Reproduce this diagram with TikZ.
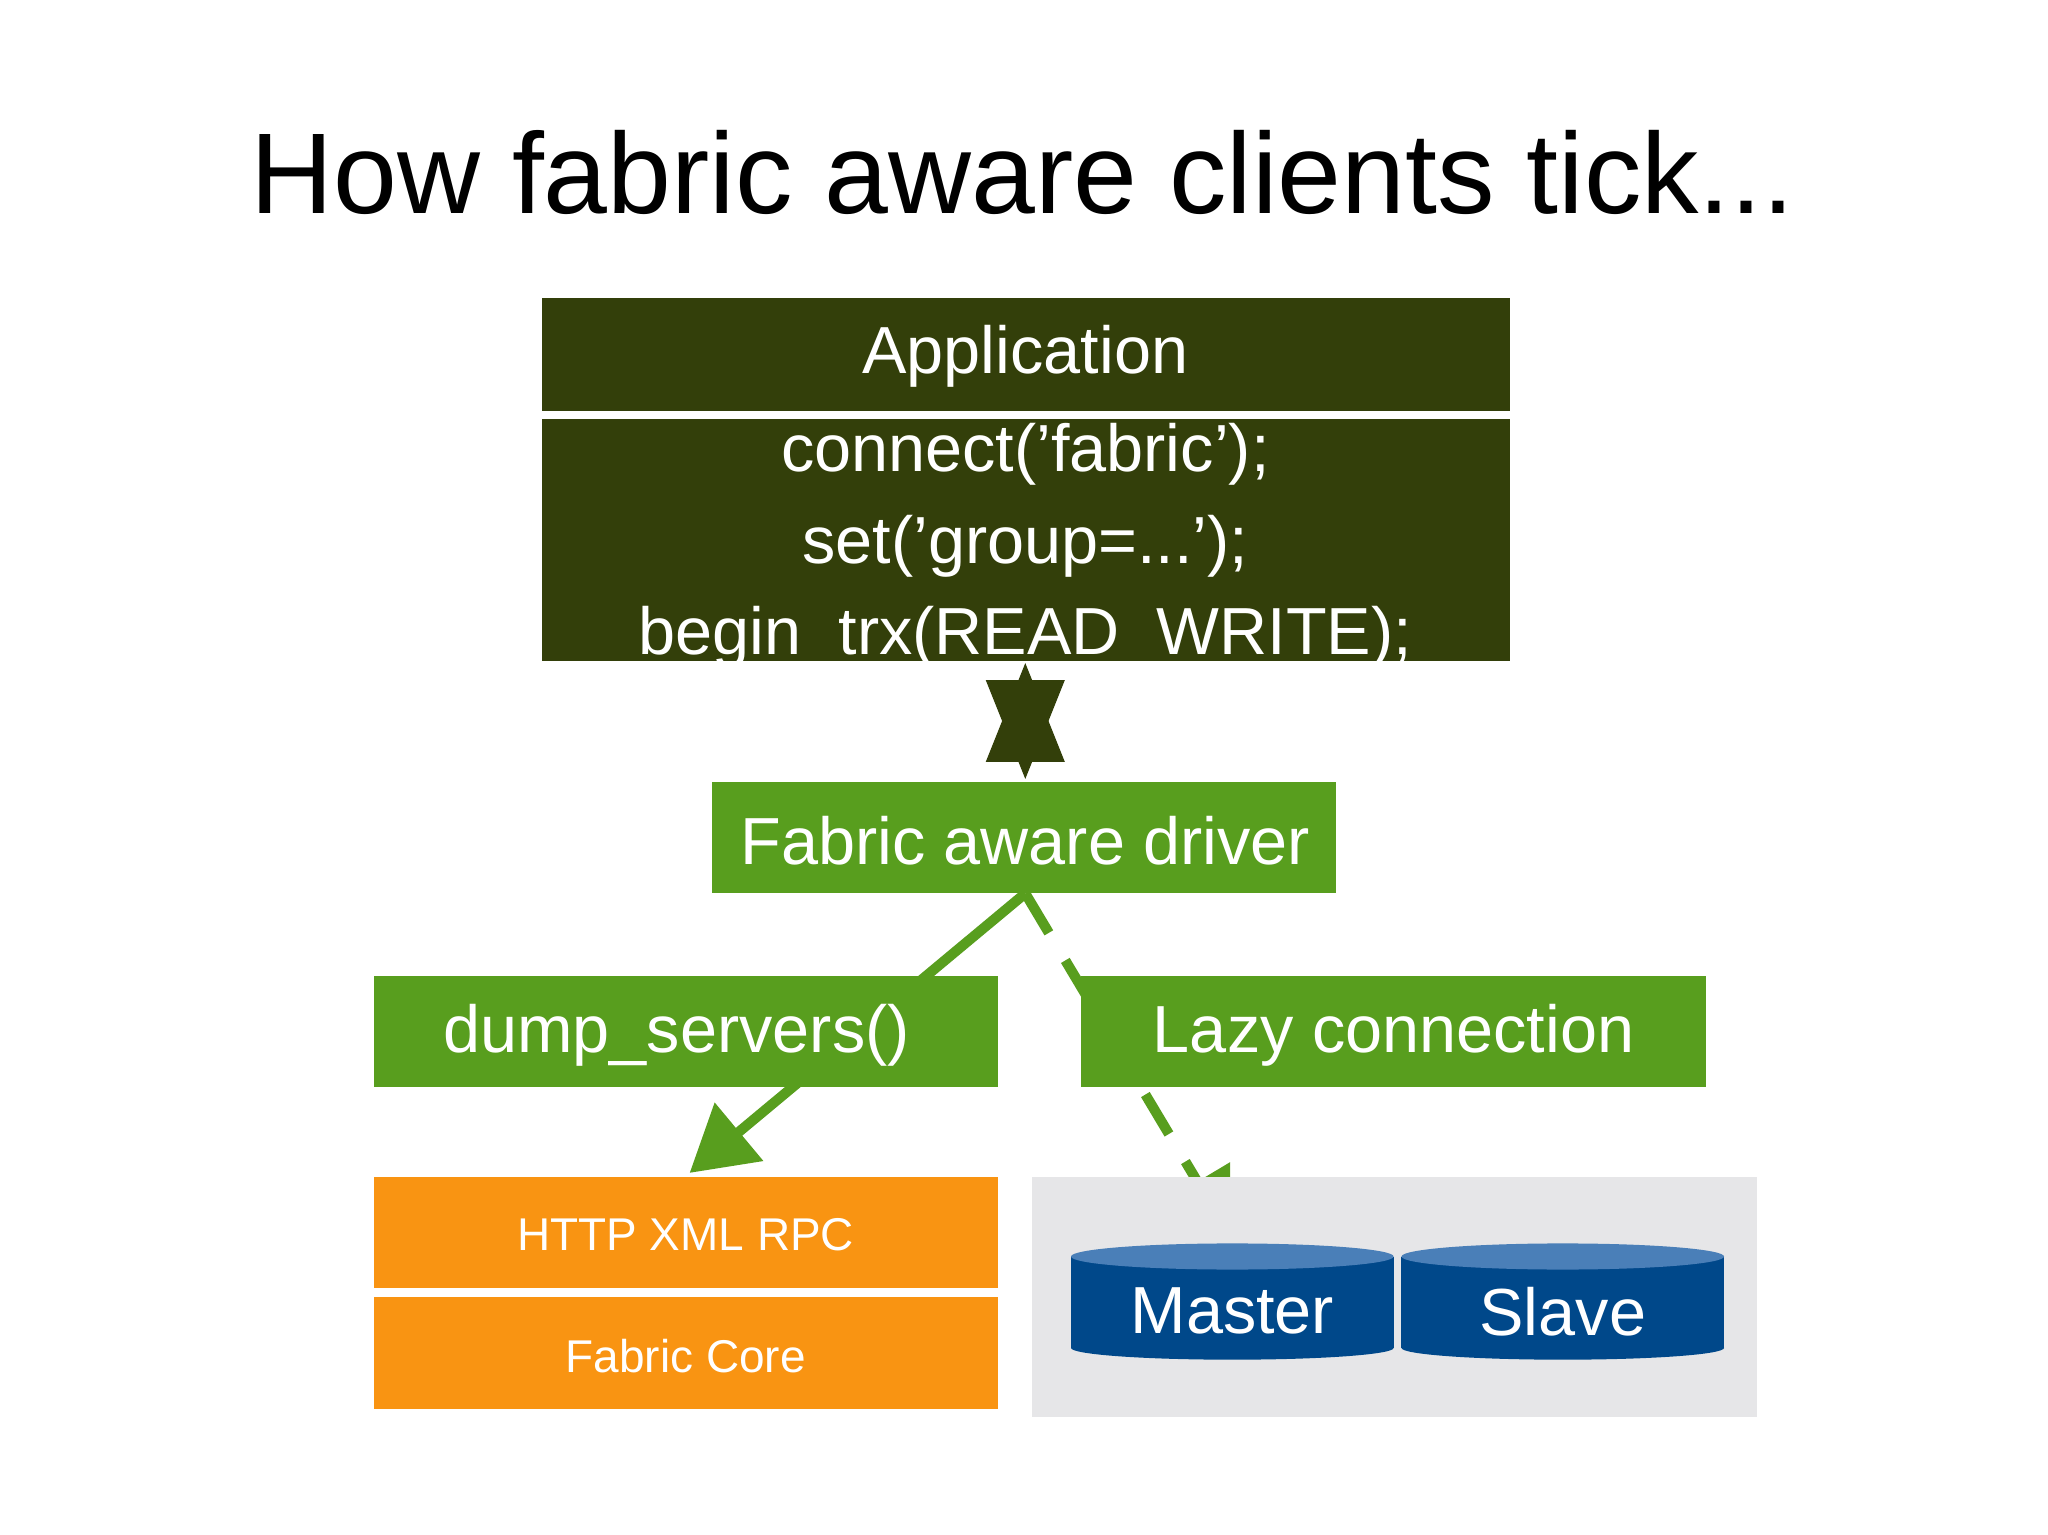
\documentclass[tikz,border=0pt]{standalone}
\usepackage{fontspec}
\setmainfont{Liberation Sans}
\usetikzlibrary{arrows.meta,shapes.geometric}
\definecolor{olive}{HTML}{333F0A}
\definecolor{grn}{HTML}{589E1E}
\definecolor{org}{HTML}{F99412}
\definecolor{blu}{HTML}{00488A}
\definecolor{blutop}{HTML}{4A7FB8}
\definecolor{pan}{HTML}{E6E6E8}
\begin{document}
\begin{tikzpicture}[x=0.01cm,y=-0.01cm,
  box/.style={draw=none,inner sep=0,text=white},
  lbl/.style={text=white,font=\fontsize{14.5}{17}\selectfont}]
\useasboundingbox[fill=white] (0,0) rectangle (1568,1175);
\node (title) at (783,132) {\fontsize{25}{30}\selectfont How fabric aware clients tick...};
% connectors behind boxes
\coordinate (dtop) at (785,506);
\coordinate (dbot) at (785,598);
\coordinate (drv) at (785,684);
\coordinate (rpc) at (528,898);
\coordinate (mst) at (942,947);
\draw[olive,line width=4pt,{Triangle[length=22pt,width=16pt]}-{Triangle[length=22pt,width=16pt]}] (dtop) -- (dbot);
\draw[grn,line width=2.2pt,-{Triangle[length=14pt,width=16pt]}] (drv) -- (rpc);
\draw[grn,line width=2.2pt,dash pattern=on 10pt off 7pt,-{Triangle[length=14pt,width=16pt]}] (drv) -- (mst);
% application
\fill[olive] (415,228) rectangle (1156,315);
\node[lbl] (app) at (785,273) {Application};
\begin{scope}
\clip (415,321) rectangle (1156,506);
\fill[olive] (415,321) rectangle (1156,506);
\node[lbl] (c1) at (785,348) {connect('fabric');};
\node[lbl] (c2) at (785,418) {set('group=...');};
\node[lbl] (c3) at (785,488) {begin\_trx(READ\_WRITE);};
\end{scope}
% driver
\fill[grn] (545,599) rectangle (1023,684);
\node[lbl] (driver) at (785,644) {Fabric aware driver};
\fill[grn] (286,747) rectangle (764,832);
\node[lbl] (dump) at (518,793) {dump\_servers()};
\fill[grn] (828,747) rectangle (1306,832);
\node[lbl] (lazy) at (1067,793) {Lazy connection};
% fabric
\fill[org] (286,901) rectangle (764,986);
\node[text=white,font=\fontsize{10}{12}\selectfont] (http) at (525,945) {HTTP XML RPC};
\fill[org] (286,993) rectangle (764,1079);
\node[text=white,font=\fontsize{10}{12}\selectfont] (core) at (525,1038) {Fabric Core};
% servers
\fill[pan] (790,901) rectangle (1345,1085);
\foreach \x/\t/\n in {820/Master/m,1073/Slave/s}{
  \fill[blu] (\x,962) rectangle (\x+247,1032);
  \fill[blu] (\x+123.5,1032) ellipse (123.5 and 9);
  \fill[blutop] (\x+123.5,962) ellipse (123.5 and 10);
  \node[lbl] (\n) at (\x+123.5,1004) {\t};
}
\end{tikzpicture}
\end{document}
